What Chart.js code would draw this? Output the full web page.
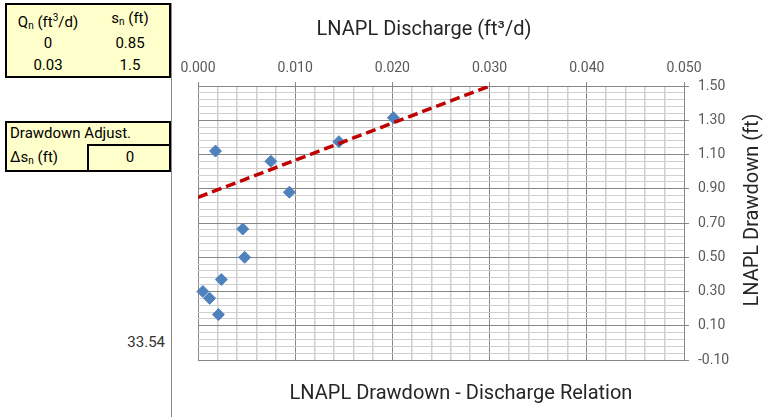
<!DOCTYPE html>
<html>
<head>
<meta charset="utf-8">
<title>LNAPL Drawdown - Discharge Relation</title>
<script src="https://cdn.jsdelivr.net/npm/chart.js@4.4.0/dist/chart.umd.min.js"></script>
<style>
    html, body { margin: 0; padding: 0; background: #fff; }
    body { width: 773px; height: 417px; position: relative; overflow: hidden; font-family: Roboto, "Liberation Sans", sans-serif; color: #000; }
    .box { position: absolute; box-sizing: border-box; background: #ffffcc; border: 2px solid #000; }
    .txt { position: absolute; font-size: 15px; line-height: 18px; white-space: nowrap; }
    .ctr { width: 80px; text-align: center; }
    sub { font-size: 10px; vertical-align: -2px; }
    sup { font-size: 10px; vertical-align: 6px; }
    .chart-line { position: absolute; left: 171px; top: 3px; width: 1px; height: 414px; background: #8c8c8c; }
    .chart-wrap { position: absolute; left: 172px; top: 0; width: 601px; height: 417px; }
</style>
</head>
<body>
    <div class="box" style="left:5px; top:3px; width:166px; height:75px;"></div>
    <span class="txt ctr" style="left:8px; top:9px;">Q<sub>n</sub> (ft<sup>3</sup>/d)</span>
    <span class="txt ctr" style="left:90px; top:9px;">s<sub>n</sub> (ft)</span>
    <span class="txt ctr" style="left:8px; top:34px;">0</span>
    <span class="txt ctr" style="left:90px; top:34px;">0.85</span>
    <span class="txt ctr" style="left:8px; top:56px;">0.03</span>
    <span class="txt ctr" style="left:90px; top:56px;">1.5</span>

    <div class="box" style="left:5px; top:121px; width:166px; height:51px;"></div>
    <div class="box" style="left:87px; top:144px; width:84px; height:28px;"></div>
    <span class="txt" style="left:10px; top:124px;">Drawdown Adjust.</span>
    <span class="txt" style="left:10px; top:148px;">&Delta;s<sub>n</sub> (ft)</span>
    <span class="txt ctr" style="left:90px; top:148px;">0</span>

    <span class="txt" style="right:608px; top:333px; color:#333;">33.54</span>

    <div class="chart-line"></div>
    <div class="chart-wrap">
        <canvas id="relation_chart" width="601" height="417"></canvas>
    </div>

<script>
// measured points
const dischargeQ = [0.0018, 0.0075, 0.0094, 0.0145, 0.0201, 0.0046, 0.0048, 0.0024, 0.0005, 0.0012, 0.0021];
const drawdownS = [1.12, 1.06, 0.88, 1.175, 1.315, 0.665, 0.50, 0.37, 0.30, 0.26, 0.165];

// trend line (Qn, sn from the table)
const trendQ = [0, 0.03];
const trendS = [0.85, 1.5];

const xTickLabels = ["0.000", "0.010", "0.020", "0.030", "0.040", "0.050"];
const yTickLabels = ["-0.10", "0.10", "0.30", "0.50", "0.70", "0.90", "1.10", "1.30", "1.50"];

const X_MIN = 0, X_MAX = 0.05, X_STEP = 0.002;
const Y_MIN = -0.1, Y_MAX = 1.5, Y_STEP = 0.04;

const MAJOR = "#878787";
const MINOR = "#cfcfcf";
const TICK_COLOR = "#595959";
const TITLE_COLOR = "#262626";

const topTitle = "LNAPL Discharge (ft³/d)";
const bottomTitle = "LNAPL Drawdown - Discharge Relation";
const yTitle = "LNAPL Drawdown (ft)";

const minorTicks = (min, max, step) => {
    const count = Math.round((max - min) / step);
    const ticks = [];
    for (let i = 0; i <= count; i++) {
        ticks.push({ value: +(min + i * step).toFixed(4) });
    }
    return ticks;
};

const isMajor = (c) => c.index % 5 === 0;

const axisTitles = {
    id: "axisTitles",
    afterDraw(chart) {
        const ctx = chart.ctx;
        ctx.save();
        ctx.fillStyle = TITLE_COLOR;
        ctx.font = "20px Roboto";
        ctx.textAlign = "center";
        ctx.textBaseline = "alphabetic";
        ctx.fillText(topTitle, 252, 35);
        ctx.fillText(bottomTitle, 289, 399);
        ctx.translate(586, 210);
        ctx.rotate(-Math.PI / 2);
        ctx.fillText(yTitle, 0, 0);
        ctx.restore();
    },
};

document.addEventListener("DOMContentLoaded", () => {
    const ctx = document.querySelector("#relation_chart");

    new Chart(ctx, {
        type: "scatter",
        data: {
            datasets: [
                {
                    label: "Trend",
                    data: trendQ.map((q, i) => ({ x: q, y: trendS[i] })),
                    showLine: true,
                    borderColor: "#c00000",
                    borderWidth: 3.5,
                    borderDash: [10, 5],
                    pointRadius: 0,
                },
                {
                    label: "Measured",
                    data: dischargeQ.map((q, i) => ({ x: q, y: drawdownS[i] })),
                    pointStyle: "rectRot",
                    pointRadius: 6,
                    backgroundColor: "#4f81bd",
                    borderColor: "#4f81bd",
                    borderWidth: 1,
                    clip: 4,
                },
            ],
        },
        options: {
            responsive: false,
            animation: false,
            devicePixelRatio: 1,
            layout: {
                padding: { left: 26, right: 0, top: 0, bottom: 57 },
            },
            plugins: {
                legend: { display: false },
                tooltip: { enabled: false },
            },
            scales: {
                x: {
                    type: "linear",
                    position: "top",
                    min: X_MIN,
                    max: X_MAX,
                    afterBuildTicks: (scale) => {
                        scale.ticks = minorTicks(X_MIN, X_MAX, X_STEP);
                    },
                    afterFit: (scale) => {
                        scale.height = 86;
                    },
                    ticks: {
                        autoSkip: false,
                        maxRotation: 0,
                        padding: 5,
                        color: TICK_COLOR,
                        font: { family: "Roboto", size: 14 },
                        callback: (value, index) => (index % 5 === 0 ? xTickLabels[index / 5] : ""),
                    },
                    grid: {
                        color: (c) => (isMajor(c) ? MAJOR : MINOR),
                        lineWidth: (c) => (isMajor(c) ? 1 : 1.5),
                        tickColor: (c) => (isMajor(c) ? MAJOR : "rgba(0,0,0,0)"),
                        tickLength: 4,
                    },
                    border: { display: true, color: MAJOR },
                },
                y: {
                    type: "linear",
                    position: "right",
                    min: Y_MIN,
                    max: Y_MAX,
                    afterBuildTicks: (scale) => {
                        scale.ticks = minorTicks(Y_MIN, Y_MAX, Y_STEP);
                    },
                    afterFit: (scale) => {
                        scale.width = 89;
                    },
                    ticks: {
                        autoSkip: false,
                        padding: 9,
                        color: TICK_COLOR,
                        font: { family: "Roboto", size: 14 },
                        callback: (value, index) => (index % 5 === 0 ? yTickLabels[index / 5] : ""),
                    },
                    grid: {
                        color: (c) => (isMajor(c) ? MAJOR : MINOR),
                        lineWidth: 1,
                        tickColor: (c) => (isMajor(c) ? MAJOR : "rgba(0,0,0,0)"),
                        tickLength: 5,
                    },
                    border: { display: true, color: MAJOR },
                },
            },
        },
        plugins: [axisTitles],
    });
});
</script>
</body>
</html>
